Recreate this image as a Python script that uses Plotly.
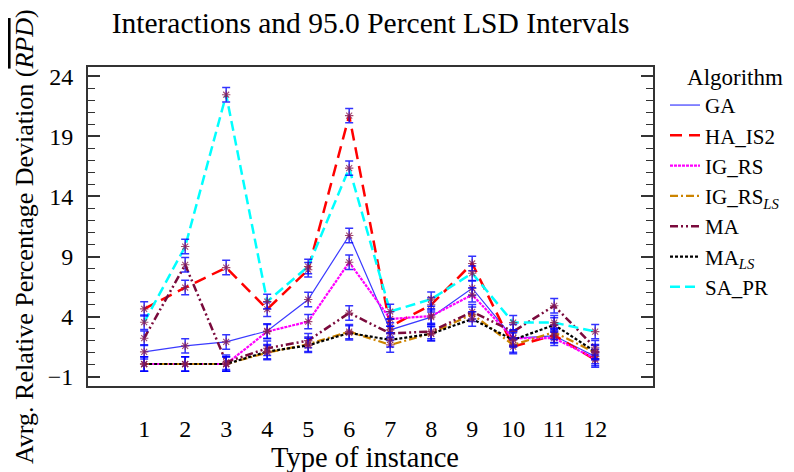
import plotly.graph_objects as go

instances = [1, 2, 3, 4, 5, 6, 7, 8, 9, 10, 11, 12]
y_tickvals = [-1, 4, 9, 14, 19, 24]
lsd_half = 0.6

GA = [1.06, 1.56, 1.89, 2.8, 5.42, 10.75, 2.89, 3.95, 6.36, 2.2, 2.4, 0.67]
HA_IS2 = [4.64, 6.42, 8.08, 4.61, 7.9, 20.73, 3.17, 4.98, 8.42, 1.5, 2.45, 0.39]
IG_RS = [0.05, 0.05, 0.05, 2.75, 3.58, 8.52, 3.8, 4.05, 5.81, 2.2, 2.2, 0.5]
IG_RS_LS = [0.05, 0.05, 0.05, 1.0, 1.7, 2.75, 1.64, 2.6, 4.2, 1.64, 2.7, 1.0]
MA = [2.2, 8.31, 0.2, 1.36, 2.0, 4.3, 2.6, 2.75, 4.4, 2.75, 4.9, 1.4]
MA_LS = [0.05, 0.05, 0.05, 1.08, 1.6, 2.64, 2.06, 2.56, 3.8, 2.06, 3.31, 1.08]
SA_PR = [3.53, 9.83, 22.47, 5.25, 8.17, 16.36, 4.42, 5.45, 7.61, 3.5, 3.5, 2.75]

series = [
    ("GA", GA, "#3a3aff", 1.2, "solid"),
    ("HA_IS2", HA_IS2, "#ff0000", 2.5, "12px,7px"),
    ("IG_RS", IG_RS, "#ff00ff", 2.2, "3px,1px"),
    ("IG_RS<sub><i>LS</i></sub>", IG_RS_LS, "#cc8400", 2.2, "8px,3px,2px,3px"),
    ("MA", MA, "#7a0a3c", 2.5, "8px,3px,2px,3px,2px,3px"),
    ("MA<sub><i>LS</i></sub>", MA_LS, "#000000", 2.2, "3px,2px"),
    ("SA_PR", SA_PR, "#00ffff", 2.5, "10px,5px"),
]

FONT = "Liberation Serif"
W, H = 786, 464  # page body adds an 8px margin
L, T, PW, PH = 80, 59, 565, 319

fig = go.Figure()
# lines (legend entries)
for name, vals, color, width, dash in series:
    fig.add_trace(go.Scatter(
        x=instances, y=vals, name=name, mode="lines",
        line=dict(color=color, width=width, dash=dash),
    ))
# markers with LSD intervals
for name, vals, color, width, dash in series:
    fig.add_trace(go.Scatter(
        x=instances, y=vals, name=name, mode="markers", showlegend=False,
        marker=dict(symbol="asterisk-open", size=7,
                    line=dict(color="rgba(139,28,78,0.8)", width=1.1),
                    color="rgba(139,28,78,0.8)"),
        error_y=dict(type="constant", value=lsd_half, color="rgba(0,0,255,0.8)",
                     thickness=1.5, width=4),
    ))

fig.update_layout(
    width=W, height=H,
    margin=dict(l=L, r=W - L - PW, t=T, b=H - T - PH, autoexpand=False),
    paper_bgcolor="white", plot_bgcolor="white",
    font=dict(family=FONT, size=22, color="black"),
    title=dict(text="Interactions and 95.0 Percent LSD Intervals",
               x=0.5, xref="paper", xanchor="center",
               y=1 - 15 / H, yanchor="middle",
               font=dict(family=FONT, size=29.5, color="black")),
    showlegend=True,
    legend=dict(
        x=(657 - L) / PW, xanchor="left", y=1 + (T - 47) / PH, yanchor="top",
        title=dict(text="Algorithm", side="top right",
                   font=dict(family=FONT, size=23)),
        font=dict(family=FONT, size=21),
        bgcolor="rgba(0,0,0,0)", borderwidth=0, maxheight=500,
    ),
    xaxis=dict(
        range=[-0.37, 13.41], tickvals=instances, ticktext=[str(v) for v in instances],
        ticks="outside", ticklen=20, tickcolor="rgba(0,0,0,0)",
        showline=True, linecolor="#333333", linewidth=2, mirror=True,
        showgrid=False, zeroline=False,
        tickfont=dict(family=FONT, size=24),
    ),
    yaxis=dict(
        range=[-1.78, 24.78], tickvals=y_tickvals,
        ticks="inside", ticklen=12, tickwidth=1.5, tickcolor="#333333",
        showline=True, linecolor="#333333", linewidth=2, mirror="ticks",
        showgrid=False, zeroline=False,
        ticklabelstandoff=8,
        tickfont=dict(family=FONT, size=24),
        minor=dict(ticks="inside", dtick=1, tick0=-1, ticklen=7, tickwidth=1.2,
                   tickcolor="#333333", showgrid=False),
    ),
    annotations=[
        dict(text="Type of instance", xref="paper", yref="paper",
             x=(357 - L) / PW, y=(T + PH - 449) / PH, xanchor="center", yanchor="middle",
             showarrow=False, font=dict(family=FONT, size=28.5)),
        dict(text="Avrg. Relative Percentage Deviation (<i><span style='text-decoration:overline'>RPD</span></i>)",
             xref="paper", yref="paper", textangle=-90,
             x=(16 - L) / PW, y=(T + PH - 229) / PH, xanchor="center", yanchor="middle",
             showarrow=False, font=dict(family=FONT, size=26)),
    ],
)

fig.write_html("out.html")
